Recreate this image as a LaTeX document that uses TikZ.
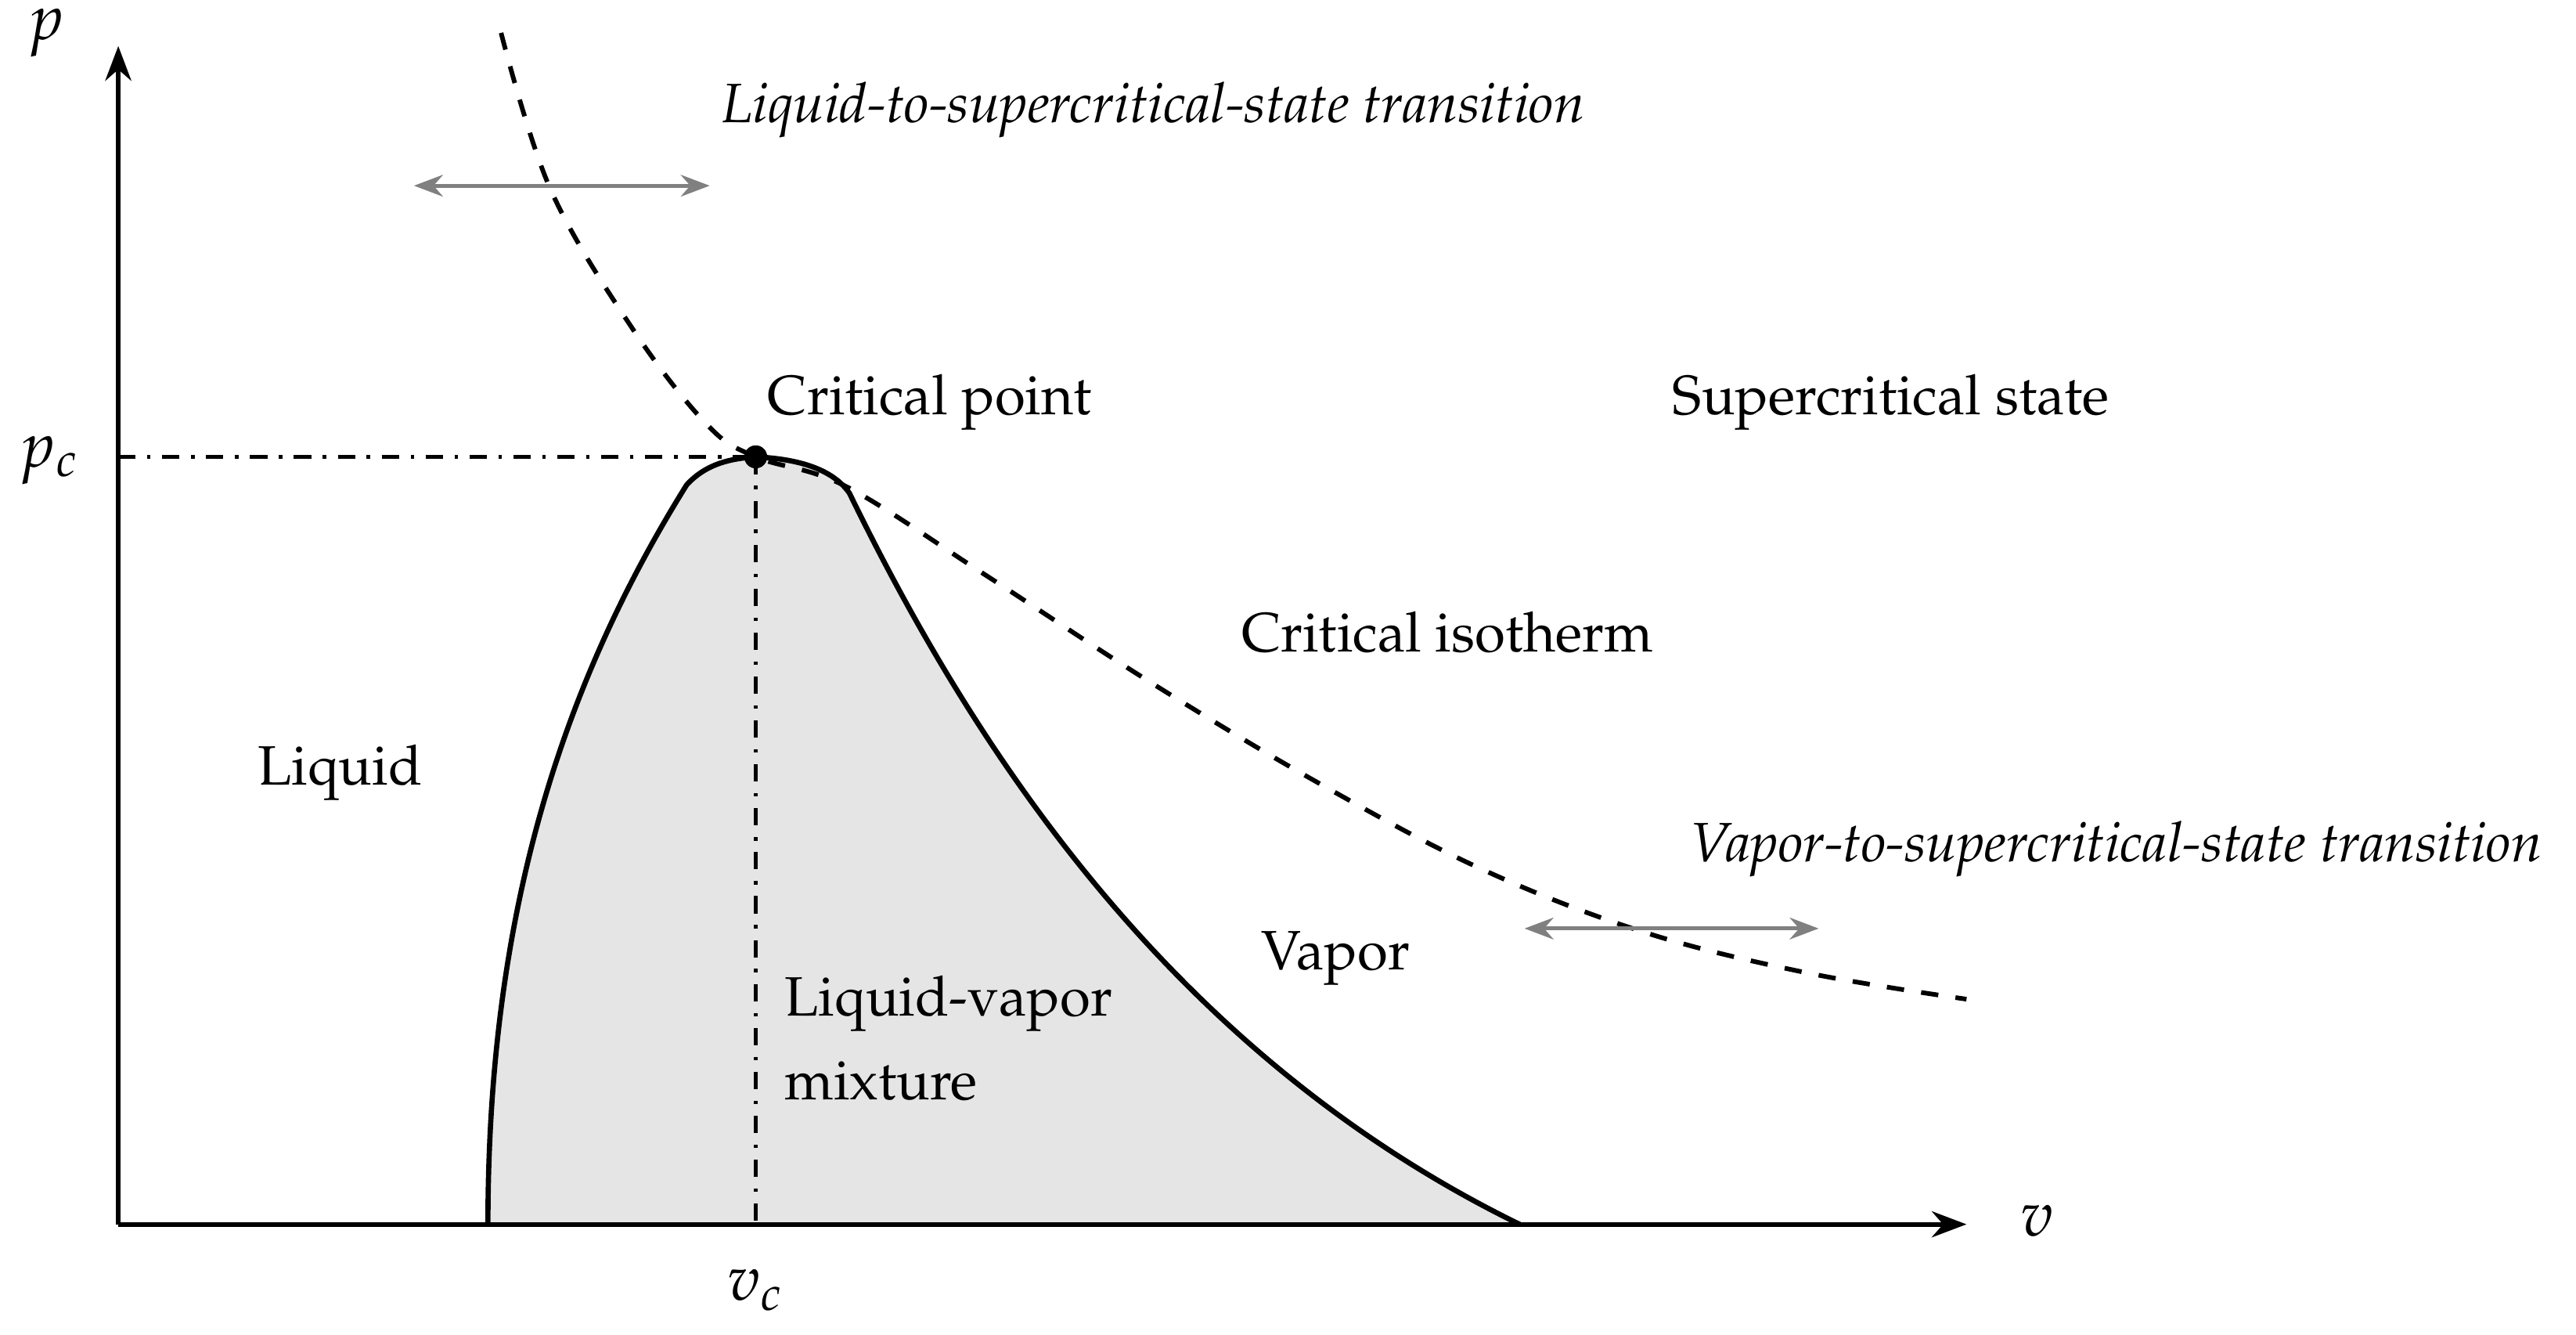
\documentclass[tikz,border=0pt]{standalone}
\usepackage[T1]{fontenc}
\usepackage{mathpazo}
\usetikzlibrary{arrows.meta}
\tikzset{
  lbl/.style={font=\fontsize{9.6}{11.5}\selectfont, inner sep=0pt},
  ilbl/.style={font=\fontsize{9.6}{11.5}\selectfont\itshape, inner sep=0pt},
  gar/.style={draw=gray, line width=0.7pt, {Stealth[length=5pt]}-{Stealth[length=5pt]}},
  ax/.style={line width=0.8pt, -{Stealth[length=6pt]}},
  dd/.style={line width=0.6pt, dash dot}
}
\begin{document}
\begin{tikzpicture}[x=0.01cm,y=-0.01cm]
\useasboundingbox (0,0) rectangle (1568,812);
% dome
\coordinate (base1) at (297,745);
\coordinate (cp) at (460,278);
\coordinate (base2) at (925,745);
\fill[gray!20] (base1) .. controls (297,560) and (340,420) .. (418,295)
  .. controls (430,282) and (445,279) .. (cp)
  .. controls (480,279) and (505,283) .. (517,300)
  .. controls (590,450) and (710,640) .. (base2) -- cycle;
\draw[line width=0.9pt] (base1) .. controls (297,560) and (340,420) .. (418,295)
  .. controls (430,282) and (445,279) .. (cp)
  .. controls (480,279) and (505,283) .. (517,300)
  .. controls (590,450) and (710,640) .. (base2);
% axes
\coordinate (O) at (72,745);
\coordinate (ytop) at (72,28);
\coordinate (xend) at (1197,745);
\draw[ax] (O) -- (ytop);
\draw[ax] (O) -- (xend);
\node[lbl, font=\fontsize{11}{13}\selectfont] (p) at (28,20) {$p$};
\node[lbl, font=\fontsize{11}{13}\selectfont] (v) at (1240,743) {$v$};
\node[lbl, font=\fontsize{11}{13}\selectfont] (pc) at (30,280) {$p_c$};
\node[lbl, font=\fontsize{11}{13}\selectfont] (vc) at (460,785) {$v_c$};
% dash-dot
\coordinate (pcy) at (72,278);
\coordinate (vcx) at (460,745);
\draw[dd] (pcy) -- (cp);
\draw[dd] (cp) -- (vcx);
% isotherm
\draw[dashed, line width=0.8pt] plot[smooth, tension=0.6] coordinates {(305,20) (335,115) (385,200) (430,258) (460,278) (515,296) (600,350) (700,415) (800,475) (900,528) (1000,567) (1100,592) (1197,608)};
\fill (cp) circle (7);
% arrows
\coordinate (a1) at (252,113); \coordinate (a2) at (432,113);
\coordinate (b1) at (928,565); \coordinate (b2) at (1107,565);
\draw[gar] (a1) -- (a2);
\draw[gar] (b1) -- (b2);
% labels
\node[ilbl] (t1) at (702,67) {Liquid-to-supercritical-state transition};
\node[ilbl] (t2) at (1288,517) {Vapor-to-supercritical-state transition};
\node[lbl] (crit) at (566,245) {Critical point};
\node[lbl] (sc) at (1151,245) {Supercritical state};
\node[lbl] (iso) at (881,385) {Critical isotherm};
\node[lbl] (liq) at (207,470) {Liquid};
\node[lbl] (vap) at (813,583) {Vapor};
\node[lbl, anchor=west, align=left] (mix) at (477,632) {Liquid-vapor\\[3pt]mixture};
\end{tikzpicture}
\end{document}
